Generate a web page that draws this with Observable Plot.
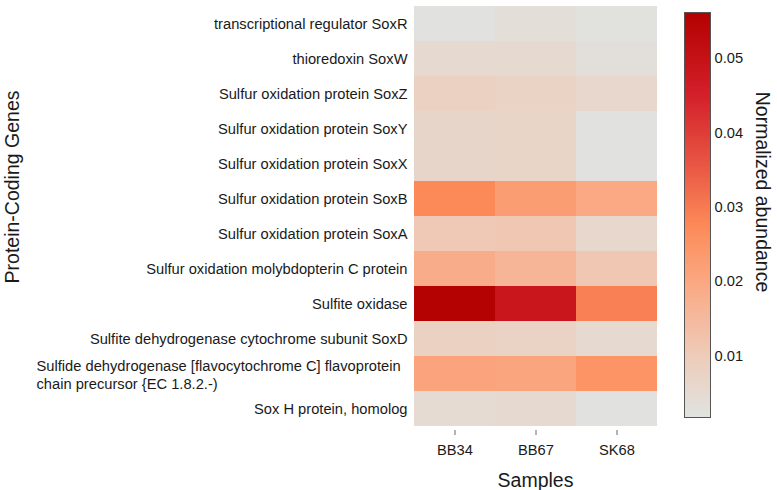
<!DOCTYPE html>
<html>
<head>
<meta charset="utf-8">
<script src="https://cdn.jsdelivr.net/npm/d3@7"></script>
<script src="https://cdn.jsdelivr.net/npm/@observablehq/plot@0.6"></script>
<style>
  html, body { margin: 0; padding: 0; background: #fff; }
  #wrap { position: relative; width: 777px; height: 490px; font-family: "Liberation Sans", Arial, Helvetica, sans-serif; }
  #wrap svg { position: absolute; top: 0; }
</style>
</head>
<body>
<div id="wrap"></div>
<script>
const samples = ["BB34", "BB67", "SK68"];
const genes = [
  "transcriptional regulator SoxR",
  "thioredoxin SoxW",
  "Sulfur oxidation protein SoxZ",
  "Sulfur oxidation protein SoxY",
  "Sulfur oxidation protein SoxX",
  "Sulfur oxidation protein SoxB",
  "Sulfur oxidation protein SoxA",
  "Sulfur oxidation molybdopterin C protein",
  "Sulfite oxidase",
  "Sulfite dehydrogenase cytochrome subunit SoxD",
  "Sulfide dehydrogenase [flavocytochrome C] flavoprotein chain precursor {EC 1.8.2.-)",
  "Sox H protein, homolog"
];
const wrappedGene = genes[10];
const wrappedLabel = "Sulfide dehydrogenase [flavocytochrome C] flavoprotein\nchain precursor {EC 1.8.2.-)";
const bb34 = [0.0020, 0.0050, 0.0080, 0.0065, 0.0065, 0.0275, 0.0105, 0.0185, 0.0560, 0.0080, 0.0210, 0.0045];
const bb67 = [0.0035, 0.0052, 0.0075, 0.0068, 0.0068, 0.0225, 0.0112, 0.0160, 0.0485, 0.0075, 0.0205, 0.0050];
const sk68 = [0.0022, 0.0030, 0.0060, 0.0020, 0.0020, 0.0195, 0.0060, 0.0110, 0.0290, 0.0050, 0.0250, 0.0020];
const legendTicks = [0.01, 0.02, 0.03, 0.04, 0.05];
const legendDomain = [0.0017, 0.0562];

const colorStops = [0.0017, 0.01, 0.02, 0.0275, 0.035, 0.045, 0.0562];
const colorRange = ["#e0e3e0", "#eecbb9", "#fba781", "#fc8a58", "#ea5a45", "#d3202a", "#b30000"];
const colorScale = {type: "linear", domain: colorStops, range: colorRange, interpolate: "rgb"};

const series = [bb34, bb67, sk68];
const table = genes.flatMap((g, i) => samples.map((s, j) => ({gene: g, sample: s, value: series[j][i]})));

const font = '"Liberation Sans", Arial, Helvetica, sans-serif';
const ink = "#1a1a1a";

const main = Plot.plot({
  width: 777,
  height: 490,
  marginLeft: 413,
  marginRight: 119,
  marginTop: 2,
  marginBottom: 60,
  style: {fontFamily: font, fontSize: "14.7px", color: ink, background: "transparent"},
  x: {type: "band", domain: samples, padding: 0, label: null},
  y: {type: "band", domain: genes, padding: 0, label: null},
  color: colorScale,
  marks: [
    Plot.cell(table, {x: "sample", y: "gene", fill: "value", inset: 0}),
    Plot.axisX({tickSize: 5, tickPadding: 9, stroke: "#666", fill: ink, label: null}),
    Plot.axisY({tickSize: 0, tickPadding: 6, fill: ink, label: null,
      tickFormat: d => d === wrappedGene ? "" : d}),
    Plot.text([wrappedGene], {y: d => d, text: () => wrappedLabel, frameAnchor: "left",
      textAnchor: "start", dx: -377, lineHeight: 1.27, fill: ink, fontSize: 14.7})
  ]
});
const msvg = d3.select(main);
msvg.append("text")
  .attr("transform", "translate(12,187) rotate(-90)")
  .attr("text-anchor", "middle").attr("dominant-baseline", "central")
  .attr("font-size", "19.5px").attr("fill", ink).text("Protein-Coding Genes");
msvg.append("text")
  .attr("x", 535.5).attr("y", 480)
  .attr("text-anchor", "middle").attr("dominant-baseline", "central")
  .attr("font-size", "19.5px").attr("fill", ink).text("Samples");
document.getElementById("wrap").appendChild(main);
main.style.left = "0px";

const step = (legendDomain[1] - legendDomain[0]) / 300;
const ramp = d3.range(legendDomain[0], legendDomain[1], step);
const bar = Plot.plot({
  width: 93,
  height: 490,
  marginLeft: 0,
  marginRight: 67,
  marginTop: 12,
  marginBottom: 73,
  style: {fontFamily: font, fontSize: "14.7px", color: ink, background: "transparent", overflow: "visible"},
  x: {domain: [0, 1], axis: null},
  y: {domain: legendDomain, label: null},
  color: colorScale,
  marks: [
    Plot.rect(ramp, {x1: 0, x2: 1, y1: d => d, y2: d => Math.min(d + step * 2, legendDomain[1]),
      fill: d => d + step / 2, shapeRendering: "crispEdges"}),
    Plot.frame({stroke: "#555", strokeWidth: 1}),
    Plot.axisY({anchor: "right", ticks: legendTicks, tickSize: 0, tickPadding: 4, fill: ink,
      tickFormat: d3.format(".2f"), label: null})
  ]
});
d3.select(bar).append("text")
  .attr("transform", "translate(79,192) rotate(90)")
  .attr("text-anchor", "middle").attr("dominant-baseline", "central")
  .attr("font-size", "19.5px").attr("fill", ink).text("Normalized abundance");
document.getElementById("wrap").appendChild(bar);
bar.style.left = "684px";
</script>
</body>
</html>
